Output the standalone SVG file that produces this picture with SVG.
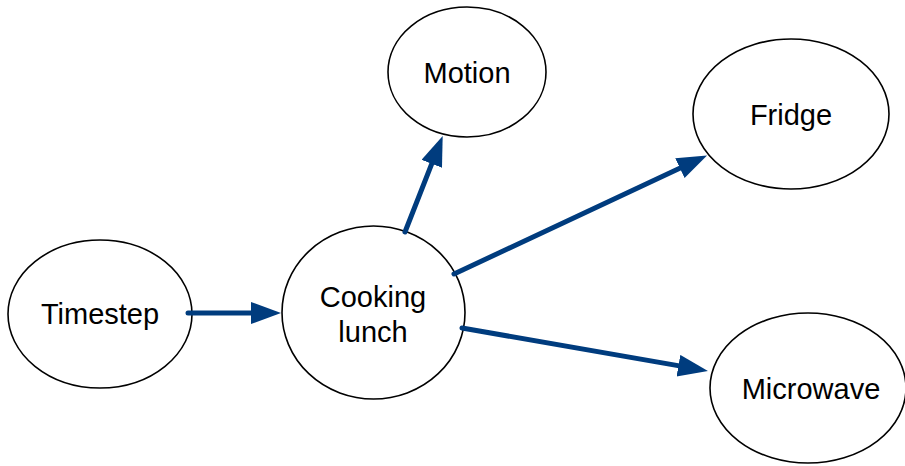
<svg xmlns="http://www.w3.org/2000/svg" width="905" height="466" viewBox="0 0 905 466">
<style>
.node ellipse{fill:#fff;stroke:#000;stroke-width:1.6}
.node text{font-family:"Liberation Sans",Arial,sans-serif;font-size:29px;fill:#000;text-anchor:middle}
.edge{stroke:#003C7E;stroke-width:5;fill:none;stroke-linecap:round;marker-end:url(#ah)}
</style>
<defs>
<marker id="ah" markerUnits="userSpaceOnUse" markerWidth="32" markerHeight="24" refX="1" refY="11" orient="auto" viewBox="0 0 32 24">
<path d="M0,0 L30,11 L0,22 Z" fill="#003C7E"/>
</marker>
</defs>
<g id="timestep" class="node"><ellipse cx="100" cy="314" rx="92" ry="74"/><text x="100" y="324">Timestep</text></g>
<g id="cooking" class="node"><ellipse cx="373.5" cy="312.5" rx="91.5" ry="86.5"/><text x="373" y="307">Cooking</text><text x="373" y="342">lunch</text></g>
<g id="motion" class="node"><ellipse cx="467" cy="72" rx="79" ry="65"/><text x="467" y="83">Motion</text></g>
<g id="fridge" class="node"><ellipse cx="791" cy="114" rx="98" ry="75"/><text x="791" y="125">Fridge</text></g>
<g id="microwave" class="node"><ellipse cx="808" cy="388" rx="98" ry="75"/><text x="811" y="399">Microwave</text></g>
<g id="connectors">
<line class="edge" x1="188" y1="313" x2="252" y2="313"/>
<line class="edge" x1="405" y1="232" x2="432.1" y2="162.9"/>
<line class="edge" x1="454" y1="274" x2="680.8" y2="167.7"/>
<line class="edge" x1="462" y1="328" x2="679.4" y2="365.9"/>
</g>
</svg>
